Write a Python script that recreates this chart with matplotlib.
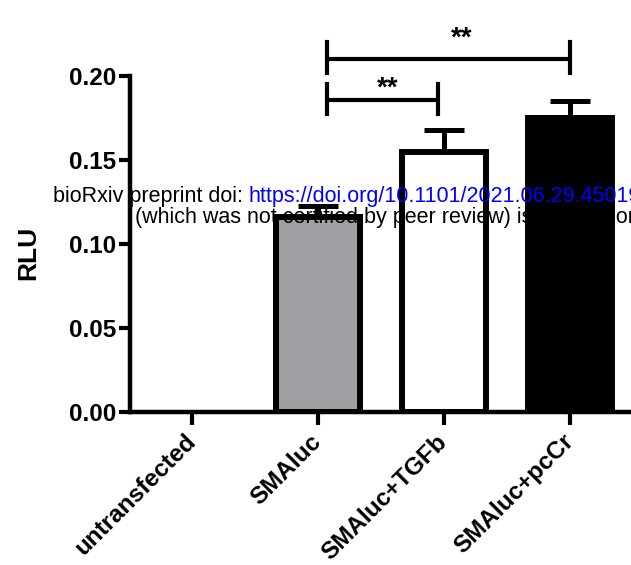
import matplotlib
matplotlib.use("Agg")
import matplotlib.pyplot as plt
import numpy as np

plt.rcParams['font.family'] = ['Liberation Sans', 'DejaVu Sans']

categories = ['untransfected', 'SMAluc', 'SMAluc+TGFb', 'SMAluc+pcCr']
rlu = [0.0, 0.116, 0.155, 0.175]
sem = [0.0, 0.0064, 0.013, 0.010]
bar_colors = ['white', '#a09fa4', 'white', 'black']
yticks = [0.00, 0.05, 0.10, 0.15, 0.20]

# significance brackets: x-left, x-right, line y, end low, end high, label x, label y, label
brackets = [(1.071, 1.95, 0.1859, 0.1772, 0.1955, 1.55, 0.1884, '**'),
            (1.071, 3.00, 0.2103, 0.2020, 0.2202, 2.14, 0.2182, '**')]

fig = plt.figure(figsize=(6.31, 5.65), dpi=100)
W, H = 631, 565
ax = fig.add_axes([130 / W, 1 - 411.7 / H, (645.6 - 130) / W, (411.7 - 76) / H])

x = np.arange(len(categories))
ax.bar(x[1:], rlu[1:], width=0.67, color=bar_colors[1:], edgecolor='black',
       linewidth=4.3, zorder=3)
ax.errorbar(x[1:], rlu[1:], yerr=[np.zeros(3), sem[1:]], fmt='none',
            ecolor='black', elinewidth=3.6, capsize=14.5, capthick=3.6, zorder=2)

ax.set_xlim(-0.492, 3.6)
ax.set_ylim(0, 0.20)
ax.set_yticks(yticks)
ax.set_yticklabels([f'{v:.2f}' for v in yticks], fontsize=17.5, fontweight='bold')
ax.set_xticks(x)
ax.set_xticklabels(categories, rotation=45, ha='right', va='center',
                   rotation_mode='anchor', fontsize=17.5, fontweight='bold')
ax.tick_params(axis='y', length=8, width=3, pad=2)
ax.tick_params(axis='x', length=9, width=3, pad=10)
for s in ['top', 'right']:
    ax.spines[s].set_visible(False)
for s in ['left', 'bottom']:
    ax.spines[s].set_linewidth(3.2)
ax.set_ylabel('RLU', fontsize=19, fontweight='bold')
ax.yaxis.set_label_coords(-0.1745, 0.473)

for (x0, x1, yb, ylo, yhi, xs, ys, lab) in brackets:
    ax.plot([x0, x1], [yb, yb], color='black', lw=3.0, clip_on=False,
            solid_capstyle='butt')
    ax.plot([x0, x0], [ylo, yhi], color='black', lw=3.0, clip_on=False)
    ax.plot([x1, x1], [ylo, yhi], color='black', lw=3.0, clip_on=False)
    ax.text(xs, ys, lab, ha='center', va='baseline', fontsize=20,
            fontweight='bold', clip_on=False)

t1 = fig.text(53 / W, 1 - 201.7 / H, 'bioRxiv preprint doi: ', fontsize=15.5,
              color='black', va='baseline', zorder=10)
ax.annotate('https://doi.org/10.1101/2021.06.29.450194', xy=(1, 0),
            xycoords=t1, ha='left', va='bottom', fontsize=15.5, color='blue',
            annotation_clip=False, zorder=10)
fig.text(135 / W, 1 - 223 / H,
         '(which was not certified by peer review) is the author/funder, who has granted bioRxiv a license',
         fontsize=15.5, color='black', va='baseline', zorder=10)

fig.savefig('out.png', dpi=100)
